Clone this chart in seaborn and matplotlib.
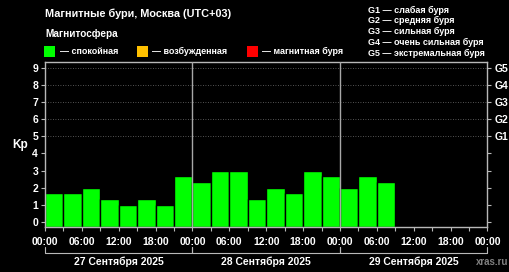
import matplotlib
matplotlib.use("Agg")
import matplotlib.pyplot as plt
import seaborn as sns
import pandas as pd
import numpy as np
from matplotlib.patches import Rectangle
import matplotlib.transforms as mtransforms

# ---- data ----
kp_values = [1.67, 1.67, 2.0, 1.33, 1.0, 1.33, 1.0, 2.67,
             2.33, 3.0, 3.0, 1.33, 2.0, 1.67, 3.0, 2.67,
             2.0, 2.67, 2.33]
hour_labels = ["00:00", "06:00", "12:00", "18:00"] * 3 + ["00:00"]
day_labels = ["27 Сентября 2025", "28 Сентября 2025", "29 Сентября 2025"]
g_labels = ["G1", "G2", "G3", "G4", "G5"]
g_levels = [5, 6, 7, 8, 9]
legend_items = ["— спокойная", "— возбужденная", "— магнитная буря"]
legend_colors = ["#00ff00", "#ffc000", "#ff0000"]
g_desc = ["G1 — слабая буря", "G2 — средняя буря", "G3 — сильная буря",
          "G4 — очень сильная буря", "G5 — экстремальная буря"]

bar_centers = [1.5 + 3 * i for i in range(len(kp_values))]
df = pd.DataFrame({"t": bar_centers, "kp": kp_values})

sns.set_theme(style="dark")
plt.rcParams['font.family'] = ['Liberation Sans', 'DejaVu Sans']
plt.rcParams['font.weight'] = 'bold'

W, H = 510, 272
fig = plt.figure(figsize=(W / 100, H / 100), dpi=100, facecolor="black")
ax = fig.add_axes([45 / W, 1 - 227.3 / H, (487.5 - 45) / W, (227.3 - 62.3) / H])
ax.set_facecolor("black")

ymin, ymax = -0.33, 9.35
sns.barplot(data=df, x="t", y="kp", native_scale=True, width=1.0,
            color="#00ff00", saturation=1, edgecolor="black", linewidth=1.0, ax=ax)
for p in ax.patches:
    top = p.get_y() + p.get_height()
    p.set_y(ymin)
    p.set_height(top - ymin)

ax.set_xlim(0, 72)
ax.set_ylim(ymin, ymax)

frame_col = "#b8b8b8"
for s in ax.spines.values():
    s.set_visible(True)
    s.set_color(frame_col)
    s.set_linewidth(1.0)

for lv in g_levels:
    ax.axhline(lv, color="#707070", linestyle=(0, (1, 2)), linewidth=0.6, zorder=0.5)
for d in [24, 48]:
    ax.axvline(d, color="#a8a8a8", linewidth=1.0, zorder=3)

ax.set_yticks(range(10))
ax.set_yticklabels([str(i) for i in range(10)])
ax.set_xticks(np.arange(0, 73, 3), minor=True)
ax.set_xticks(np.arange(0, 73, 6))
ax.set_xticklabels(hour_labels)
ax.tick_params(axis="both", which="both", colors=frame_col, direction="out",
               length=3, width=0.8, labelcolor="white", labelsize=7.5, pad=2, left=True, bottom=True)
ax.tick_params(axis="x", which="major", pad=4)
for t in ax.get_xticklabels() + ax.get_yticklabels():
    t.set_fontweight("bold")
ax.set_xlabel("")
ax.set_ylabel("")
ax.grid(False)

ax2 = ax.twinx()
ax2.set_ylim(ymin, ymax)
ax2.set_yticks(range(10))
ax2.set_yticklabels(["" for _ in range(5)] + g_labels)
ax2.tick_params(axis="y", colors=frame_col, direction="out", length=3, width=0.8,
                labelcolor="white", labelsize=7.5, pad=2, right=True)
for t in ax2.get_yticklabels():
    t.set_fontweight("bold")
ax2.grid(False)
for s in ax2.spines.values():
    s.set_visible(False)

fig.text(20 / W, 1 - 145 / H, "Kp", color="white", fontsize=8.5, fontweight="bold",
         ha="center", va="center")

# day brackets
trans = mtransforms.blended_transform_factory(ax.transData, ax.transAxes)
yb = -(253.3 - 227.3) / 165
yt = -(247 - 227.3) / 165
for i, lab in enumerate(day_labels):
    x0, x1 = 24 * i, 24 * (i + 1)
    ax.plot([x0, x0, x1, x1], [yt, yb, yb, yt], color=frame_col, linewidth=0.8,
            transform=trans, clip_on=False)
    ax.text((x0 + x1) / 2, -(262 - 227.3) / 165, lab, color="white", fontsize=7.5,
            fontweight="bold", ha="center", va="center", transform=trans)

fig.text(508 / W, 1 - 262 / H, "xras.ru", color="#808080", fontsize=7,
         ha="right", va="center")

# header
fig.text(45 / W, 1 - 13.5 / H, "Магнитные бури, Москва (UTC+03)", color="white",
         fontsize=7.8, fontweight="bold", ha="left", va="center")
fig.text(45 / W, 1 - 34 / H, "Магнитосфера", color="white",
         fontsize=7.2, fontweight="bold", ha="left", va="center")
sq_x = [44.5, 137, 247]
for x, lab, c in zip(sq_x, legend_items, legend_colors):
    fig.patches.append(Rectangle((x / W, 1 - 57 / H), 11 / W, 11 / H, transform=fig.transFigure,
                                 facecolor=c, edgecolor="none"))
    fig.text((x + 15.5) / W, 1 - 51.5 / H, lab, color="white", fontsize=6.5,
             fontweight="bold", ha="left", va="center")
g_y = [10, 20.7, 31.7, 42.7, 53.3]
for y, lab in zip(g_y, g_desc):
    fig.text(368 / W, 1 - y / H, lab, color="white", fontsize=6.5,
             fontweight="bold", ha="left", va="center")

fig.savefig("out.png", dpi=100, facecolor="black")
